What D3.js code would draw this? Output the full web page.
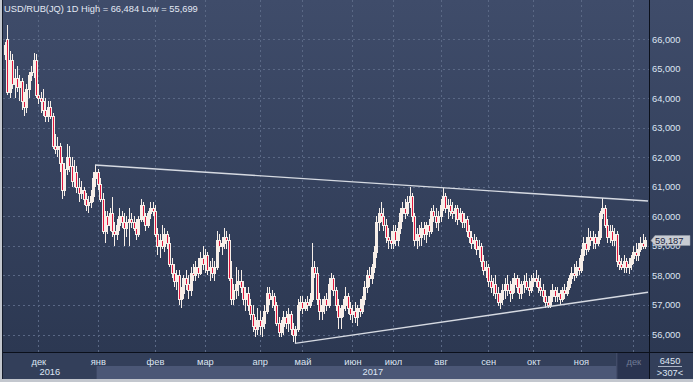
<!DOCTYPE html>
<html><head><meta charset="utf-8">
<script src="https://cdn.jsdelivr.net/npm/d3@7"></script>
<style>
html,body{margin:0;padding:0;background:#c4c8cf;overflow:hidden}
svg{display:block}
text{font-family:"Liberation Sans",Arial,sans-serif}
</style>
</head><body>
<svg id="c" width="693" height="382"></svg>
<script>
// ---------------- DATA ----------------
const openV = [
65.50,66.00,64.20,65.30,64.50,64.70,64.40,64.60,63.90,63.70,
64.30,64.80,64.90,65.30,64.10,64.00,63.90,63.60,63.40,63.70,
63.40,62.40,62.30,62.40,61.80,60.90,61.60,62.00,61.70,61.20,
61.50,61.00,60.80,60.90,60.60,60.40,60.50,60.70,61.30,61.50,
61.10,60.60,59.50,60.00,59.70,60.10,59.50,59.40,59.70,60.00,
59.80,59.60,59.80,59.90,59.80,59.60,59.40,59.90,60.40,60.00,
59.70,60.10,60.30,60.20,59.40,59.00,59.20,59.00,59.40,59.10,
58.40,58.10,57.80,58.00,57.20,57.40,57.90,57.70,57.50,58.10,
58.00,58.30,58.10,58.60,58.40,58.70,58.20,58.30,58.10,58.30,
59.20,59.00,59.10,59.30,59.20,57.90,57.20,57.50,57.70,57.80,
57.60,57.20,57.40,57.00,56.70,56.30,56.20,56.50,56.30,56.40,
56.80,57.40,57.20,57.30,57.00,56.40,56.10,56.30,56.60,56.40,
56.70,56.20,56.00,56.20,57.00,57.10,56.90,57.10,57.00,57.20,
58.30,58.10,57.20,56.80,57.00,57.20,57.00,57.70,57.90,57.50,
57.00,56.60,56.90,57.00,57.30,56.90,56.70,56.80,56.60,56.90,
56.80,57.20,57.60,58.00,57.90,58.30,58.80,59.80,60.10,60.00,
59.70,59.30,59.20,59.10,59.50,59.20,59.60,60.10,60.30,60.10,
60.50,60.70,60.00,59.20,59.40,59.30,59.60,59.40,59.70,59.50,
60.20,60.00,59.80,60.00,60.40,60.70,60.30,60.40,60.20,60.10,
60.30,59.90,60.10,59.80,59.90,59.50,59.30,59.10,59.20,58.90,
59.00,58.50,58.20,58.30,57.80,57.60,57.70,57.40,57.10,57.20,
57.50,57.70,57.50,57.40,57.70,57.90,57.60,57.40,57.70,57.80,
57.60,57.50,57.80,57.90,57.80,57.60,57.50,57.30,57.10,57.00,
57.30,57.50,57.30,57.40,57.20,57.50,57.40,57.60,57.90,58.10,
58.00,58.30,58.20,58.70,59.10,58.90,59.30,59.20,59.30,59.10,
59.30,60.10,60.30,59.70,59.30,59.50,59.20,59.40,58.50,58.40,
58.30,58.50,58.30,58.40,58.60,58.80,58.70,58.90,59.10,59.00];
const highV = [
65.90,66.48,65.60,65.50,65.00,65.10,64.80,64.70,64.20,64.50,
64.90,65.10,65.55,65.50,64.50,64.20,64.30,64.00,63.90,63.90,
63.50,62.80,62.70,62.50,62.00,61.80,62.45,62.40,62.00,61.90,
61.70,61.30,61.20,61.00,60.80,60.70,60.90,61.50,61.75,61.60,
61.30,60.80,60.20,60.20,60.30,60.66,59.80,59.90,60.30,60.20,
60.10,60.00,60.30,60.10,60.00,59.90,60.00,60.60,60.50,60.10,
60.20,60.50,60.50,60.40,59.60,59.40,59.70,59.60,59.50,59.30,
58.60,58.40,58.20,58.20,57.60,58.00,58.20,58.00,58.30,58.40,
58.50,58.60,58.80,59.00,58.90,58.80,58.50,58.60,58.50,59.50,
59.40,59.30,59.60,59.50,59.40,58.50,57.70,58.30,58.20,58.20,
57.80,57.60,57.60,57.20,57.00,56.60,56.90,56.80,56.60,57.00,
57.60,57.60,57.50,57.40,57.10,56.60,56.50,56.80,56.80,56.90,
56.80,56.40,56.30,57.20,57.30,57.30,57.20,57.30,57.40,59.10,
58.50,58.30,57.40,57.20,57.30,57.40,57.90,58.10,58.00,57.60,
57.20,57.00,57.20,57.60,57.40,57.10,57.00,57.10,57.00,57.20,
57.30,57.80,58.20,58.30,58.40,59.00,60.00,60.30,60.50,60.30,
59.90,59.60,59.50,59.70,59.70,59.80,60.30,60.50,60.60,60.70,
61.00,60.80,60.10,59.60,59.70,59.80,59.80,59.80,59.90,60.30,
60.40,60.30,60.20,60.60,60.95,60.80,60.60,60.60,60.50,60.40,
60.40,60.30,60.20,60.10,60.00,59.70,59.50,59.40,59.30,59.20,
59.10,58.70,58.50,58.40,58.00,57.90,58.00,57.60,57.40,57.70,
57.90,58.00,57.80,57.90,58.10,58.00,57.90,57.80,58.00,58.10,
57.90,58.00,58.10,58.20,58.00,57.90,57.70,57.50,57.30,57.50,
57.70,57.60,57.60,57.50,57.60,57.70,57.80,58.00,58.30,58.40,
58.50,58.60,58.90,59.30,59.30,59.60,59.50,59.50,59.40,59.50,
60.20,60.62,60.40,59.90,59.70,59.70,59.60,59.50,58.70,58.60,
58.70,58.60,58.60,58.70,59.00,59.10,59.10,59.30,59.40,59.30];
const lowV = [
65.30,64.10,64.00,64.30,64.00,64.20,63.90,63.60,63.40,63.50,
64.00,64.60,64.70,64.00,63.80,63.50,63.40,63.20,63.20,63.30,
62.30,62.10,62.00,61.50,60.60,60.70,61.40,61.50,61.00,61.00,
60.80,60.50,60.60,60.40,60.20,60.10,60.30,60.50,61.00,60.90,
60.50,59.40,59.10,59.40,59.50,59.30,59.00,59.20,59.50,59.60,
59.00,59.30,59.00,59.60,59.50,59.20,59.30,59.80,59.80,59.50,
59.60,59.90,60.00,59.30,58.70,58.60,58.90,58.80,58.90,58.30,
57.90,57.60,57.50,57.00,56.90,57.20,57.50,57.20,57.30,57.80,
57.80,57.90,58.00,58.20,58.10,58.00,57.80,57.90,57.80,58.20,
58.80,58.70,58.90,58.90,57.80,57.00,57.00,57.20,57.30,57.40,
57.00,56.80,56.80,56.50,56.10,55.90,56.00,56.00,55.90,56.20,
56.70,57.00,56.90,56.80,56.30,55.90,55.90,56.00,56.20,56.10,
56.00,55.75,55.699,56.10,56.80,56.70,56.80,56.80,56.90,57.10,
57.90,57.00,56.50,56.50,56.70,56.80,56.90,57.50,57.30,56.80,
56.20,56.20,56.60,56.80,56.70,56.50,56.40,56.40,56.30,56.60,
56.70,57.00,57.40,57.60,57.70,58.10,58.60,59.50,59.80,59.50,
59.10,58.90,58.90,58.90,59.00,59.00,59.40,59.80,59.90,60.00,
60.30,59.80,59.00,58.90,59.00,59.00,59.20,59.10,59.30,59.40,
59.80,59.60,59.50,59.80,60.20,60.10,59.90,60.00,59.90,59.80,
59.70,59.80,59.60,59.60,59.30,59.10,58.90,58.90,58.70,58.60,
58.30,58.00,57.90,57.60,57.40,57.30,57.20,56.95,56.85,57.00,
57.20,57.30,57.10,57.20,57.40,57.40,57.20,57.20,57.40,57.50,
57.30,57.40,57.60,57.60,57.40,57.30,57.10,56.90,56.90,56.90,
57.10,57.10,57.10,57.00,57.10,57.20,57.30,57.50,57.70,57.80,
57.90,58.00,58.10,58.50,58.70,58.80,59.00,58.90,58.90,59.00,
59.20,59.90,59.60,59.10,59.10,59.00,59.00,58.30,58.20,58.20,
58.10,58.10,58.05,58.20,58.40,58.50,58.50,58.80,58.90,58.90];
const closeV = [
65.80,64.20,65.30,64.50,64.70,64.40,64.60,63.90,63.70,64.30,
64.80,64.90,65.30,64.10,64.00,63.90,63.60,63.40,63.70,63.40,
62.40,62.30,62.40,61.80,60.90,61.60,62.00,61.70,61.20,61.50,
61.00,60.80,60.90,60.60,60.40,60.50,60.70,61.30,61.50,61.10,
60.60,59.50,60.00,59.70,60.10,59.50,59.40,59.70,60.00,59.80,
59.60,59.80,59.90,59.80,59.60,59.40,59.90,60.40,60.00,59.70,
60.10,60.30,60.20,59.40,59.00,59.20,59.00,59.40,59.10,58.40,
58.10,57.80,58.00,57.20,57.40,57.90,57.70,57.50,58.10,58.00,
58.30,58.10,58.60,58.40,58.70,58.20,58.30,58.10,58.30,59.20,
59.00,59.10,59.30,59.20,57.90,57.20,57.50,57.70,57.80,57.60,
57.20,57.40,57.00,56.70,56.30,56.20,56.50,56.30,56.40,56.80,
57.40,57.20,57.30,57.00,56.40,56.10,56.30,56.60,56.40,56.70,
56.20,56.00,56.20,57.00,57.10,56.90,57.10,57.00,57.20,58.30,
58.10,57.20,56.80,57.00,57.20,57.00,57.70,57.90,57.50,57.00,
56.60,56.90,57.00,57.30,56.90,56.70,56.80,56.60,56.90,56.80,
57.20,57.60,58.00,57.90,58.30,58.80,59.80,60.10,60.00,59.70,
59.30,59.20,59.10,59.50,59.20,59.60,60.10,60.30,60.10,60.50,
60.70,60.00,59.20,59.40,59.30,59.60,59.40,59.70,59.50,60.20,
60.00,59.80,60.00,60.40,60.70,60.30,60.40,60.20,60.10,60.30,
59.90,60.10,59.80,59.90,59.50,59.30,59.10,59.20,58.90,59.00,
58.50,58.20,58.30,57.80,57.60,57.70,57.40,57.10,57.20,57.50,
57.70,57.50,57.40,57.70,57.90,57.60,57.40,57.70,57.80,57.60,
57.50,57.80,57.90,57.80,57.60,57.50,57.30,57.10,57.00,57.30,
57.50,57.30,57.40,57.20,57.50,57.40,57.60,57.90,58.10,58.00,
58.30,58.20,58.70,59.10,58.90,59.30,59.20,59.30,59.10,59.30,
60.10,60.30,59.70,59.30,59.50,59.20,59.40,58.50,58.40,58.30,
58.50,58.30,58.40,58.60,58.80,58.70,58.90,59.10,59.00,59.187];

const priceTicks = [56,57,58,59,60,61,62,63,64,65,66];
const monthIdx = [14,39,63,84,107,125,146,163,183,203,222,242,264];
const monthLabels = ['дек','янв','фев','мар','апр','май','июн','июл','авг','сен','окт','ноя','дек'];
const yearLabels = ['2016','2017'];
const yearStartIdx = [-0.8, 38.5];
const upperTrend = [[37.8,61.74],[270.2,60.52]];
const lowerTrend = [[121.8,55.699],[270.2,57.43]];
const lastPrice = 59.187;
const titleText = 'USD/RUB(JQ) 1D High = 66,484 Low = 55,699';
const cornerTexts = ['6450','>307<'];

// ---------------- LAYOUT ----------------
const W = 693, H = 382;
const PL = 3, PR = 649, PT = 0, PB = 352;
const svg = d3.select('#c');
const ru = d3.formatLocale({decimal:',', thousands:' ', grouping:[3], currency:['','']});
const fmt = ru.format('.3f');

const x = d3.scaleLinear().domain([0, closeV.length - 1]).range([5, 645.2]);
const y = d3.scaleLinear().domain([56, 66]).range([334.5, 39.3]);

const defs = svg.append('defs');
const g1 = defs.append('linearGradient').attr('id','bg').attr('x1',0).attr('y1',0).attr('x2',0).attr('y2',1);
g1.append('stop').attr('offset','0%').attr('stop-color','#3f4c6a');
g1.append('stop').attr('offset','100%').attr('stop-color','#2c3852');
defs.append('clipPath').attr('id','clip').append('rect').attr('x',PL).attr('y',PT).attr('width',PR-PL).attr('height',PB-PT);

// frame
svg.append('rect').attr('x',0).attr('y',0).attr('width',W).attr('height',H).attr('fill','#c3c7ce');
svg.append('rect').attr('x',PL).attr('y',0).attr('width',W-PL).attr('height',PB).attr('fill','url(#bg)');
// x-axis rows
svg.append('rect').attr('x',PL).attr('y',PB).attr('width',W-PL).attr('height',379-PB).attr('fill','#333f5a');
svg.append('rect').attr('x',x(yearStartIdx[1])).attr('y',366).attr('width',PR - x(yearStartIdx[1])).attr('height',13).attr('fill','#4b5776');
// partial month box
const lastM = x(monthIdx[monthIdx.length-1]);
svg.append('rect').attr('x',lastM-17).attr('y',PB+1).attr('width',PR-(lastM-17)).attr('height',379-PB-1).attr('fill','#2a3450');
svg.append('rect').attr('x',lastM-17).attr('y',PB+1).attr('width',1).attr('height',379-PB-1).attr('fill','#4a5572');
// left edge
svg.append('rect').attr('x',2).attr('y',0).attr('width',1).attr('height',379).attr('fill','#141b2a');

// grid
const grid = svg.append('g').attr('stroke','#5a6885').attr('stroke-width',1).attr('stroke-dasharray','2,3');
grid.selectAll('line.h').data(priceTicks).join('line')
  .attr('x1',PL).attr('x2',PR).attr('y1',d=>Math.round(y(d))+0.5).attr('y2',d=>Math.round(y(d))+0.5);
grid.selectAll('line.v').data(monthIdx).join('line')
  .attr('x1',d=>Math.round(x(d))+0.5).attr('x2',d=>Math.round(x(d))+0.5).attr('y1',PT).attr('y2',PB);

// candles
const idx = d3.range(closeV.length);
const cg = svg.append('g').attr('clip-path','url(#clip)');
const white = '#f7efe9', red = '#e2163d';
idx.forEach(i => {
  const cx = Math.round(x(i));
  const o = openV[i], c = closeV[i], h = highV[i], l = lowV[i];
  const yh = Math.round(y(h)), yl = Math.round(y(l));
  cg.append('rect').attr('x',cx).attr('y',yh).attr('width',1).attr('height',Math.max(1,yl-yh)).attr('fill',white);
  const yt = Math.round(y(Math.max(o,c))), yb = Math.round(y(Math.min(o,c)));
  const bh = Math.max(1, yb-yt);
  cg.append('rect').attr('x',cx-1).attr('y',yt).attr('width',3).attr('height',bh+1).attr('fill',white);
  if (c < o && bh > 1) {
    cg.append('rect').attr('x',cx).attr('y',yt+1).attr('width',1).attr('height',bh-1).attr('fill',red);
  }
});

// trend lines
const line = d3.line().x(d=>x(d[0])).y(d=>y(d[1]));
[upperTrend, lowerTrend].forEach(t => {
  svg.append('path').attr('d',line(t)).attr('fill','none').attr('stroke','#d6dae2').attr('stroke-width',1.4).attr('clip-path','url(#clip)');
});

// axes lines
svg.append('rect').attr('x',PL).attr('y',PB).attr('width',W-PL).attr('height',1).attr('fill','#0b101b');
svg.append('rect').attr('x',PR).attr('y',0).attr('width',1).attr('height',379).attr('fill','#0b101b');

// y axis
const ya = svg.append('g').attr('transform',`translate(${PR},0)`)
  .call(d3.axisRight(y).tickValues(priceTicks).tickSize(0).tickPadding(3).tickFormat(fmt));
ya.select('.domain').remove();
ya.selectAll('text').attr('font-size','9.3px').attr('fill','#dde5f3').attr('font-family','"Liberation Sans",Arial,sans-serif');

// x axis
const xa = svg.append('g').attr('transform',`translate(0,${PB})`)
  .call(d3.axisBottom(x).tickValues(monthIdx).tickSize(0).tickFormat((d,i)=>monthLabels[i]));
xa.select('.domain').remove();
xa.selectAll('text').attr('y',12.5).attr('dy',0).attr('font-size','9.3px')
  .attr('fill',(d,i)=> i===monthIdx.length-1 ? '#6f7a94' : '#dde5f3')
  .attr('font-family','"Liberation Sans",Arial,sans-serif');

// years
const yEnds = [yearStartIdx[1], null];
yearLabels.forEach((lab,k) => {
  const a = k===0 ? PL : x(yearStartIdx[k]);
  const b = k===0 ? x(yearStartIdx[1]) : PR;
  svg.append('text').attr('x',(a+b)/2).attr('y',375).attr('text-anchor','middle')
    .attr('font-size','9.3px').attr('fill','#dde5f3').text(lab);
});

// last price label
const yp = Math.round(y(lastPrice));
svg.append('path').attr('d',`M651,${yp+0.5} L655,${yp-4.5} L690,${yp-4.5} L690,${yp+5.5} L655,${yp+5.5} Z`)
  .attr('fill','#c8ccd3').attr('stroke','#9aa1ad').attr('stroke-width',0.5);
svg.append('text').attr('x',655).attr('y',yp+4).attr('font-size','9.3px').attr('fill','#1b2440').text(fmt(lastPrice));

// corner box
svg.append('text').attr('x',670).attr('y',363.5).attr('text-anchor','middle').attr('font-size','9.3px').attr('fill','#dde5f3').text(cornerTexts[0]);
svg.append('rect').attr('x',658).attr('y',366).attr('width',24).attr('height',1).attr('fill','#aab3c4');
svg.append('text').attr('x',670).attr('y',375.5).attr('text-anchor','middle').attr('font-size','9.3px').attr('fill','#dde5f3').text(cornerTexts[1]);

// title
svg.append('text').attr('x',4).attr('y',11.7).attr('font-size','9.3px').attr('fill','#e3e9f4').text(titleText);
</script>
</body></html>
